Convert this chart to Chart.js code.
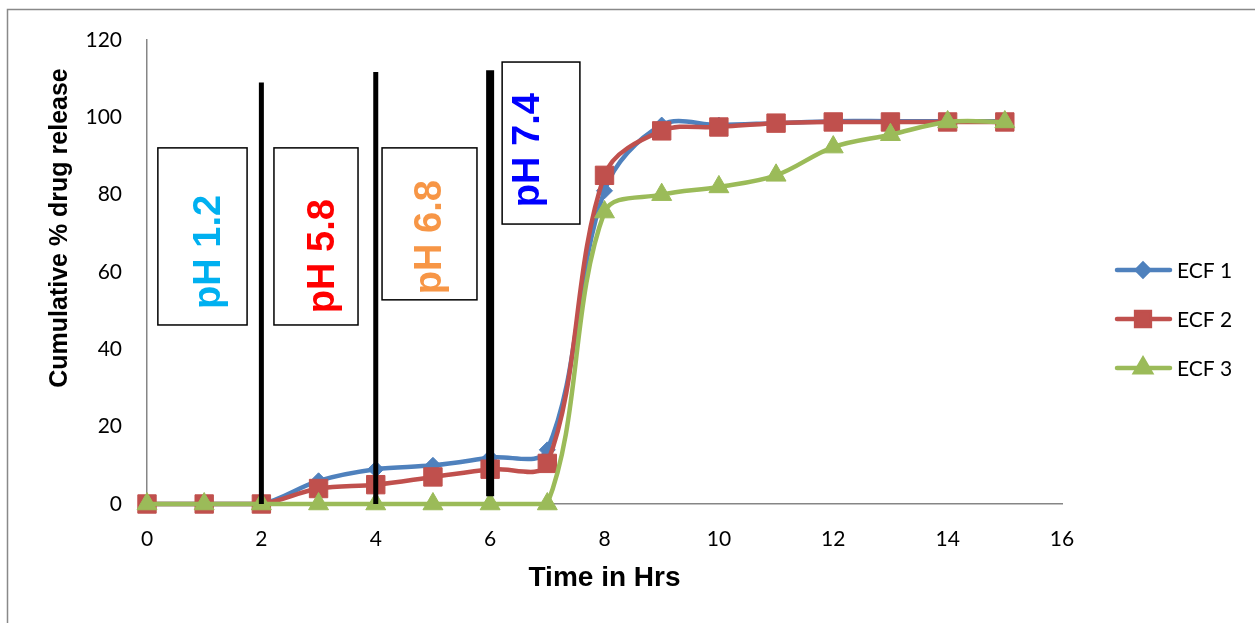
<!DOCTYPE html>
<html>
<head>
<meta charset="utf-8">
<script src="https://cdn.jsdelivr.net/npm/chart.js@4"></script>
<style>
  html, body { margin: 0; padding: 0; background: #fff; }
  #wrap { width: 1255px; height: 623px; }
</style>
</head>
<body>
<div id="wrap"><canvas id="releaseChart"></canvas></div>
<script>
// time points (hours) and cumulative release per formulation
var hours = [0, 1, 2, 3, 4, 5, 6, 7, 8, 9, 10, 11, 12, 13, 14, 15];
var ecf1 = [0, 0, 0, 6, 9, 10, 12, 14, 81, 98, 98, 98.5, 99, 99, 99, 99];
var ecf2 = [0, 0, 0, 4, 5, 7, 9, 10.5, 85, 96.5, 97.5, 98.5, 98.8, 98.8, 98.8, 98.8];
var ecf3 = [0, 0, 0, 0, 0, 0, 0, 0, 75.5, 80, 82, 85, 92.3, 95.5, 98.8, 98.8];
var seriesNames = ['ECF 1', 'ECF 2', 'ECF 3'];

// pH change times and the medium labels
var phChangeHours = [2, 4, 6];
var phLabels = ['pH 1.2', 'pH 5.8', 'pH 6.8', 'pH 7.4'];

var colors = ['#4F81BD', '#C0504D', '#9BBB59'];
var markers = ['rectRot', 'rect', 'triangle'];
var markerSize = [8, 13, 11.5];

// styling for the phase markers (data units)
var lineStyle = [
    { top: 109, bottom: 0, width: 5 },
    { top: 111.7, bottom: 0, width: 5 },
    { top: 112.2, bottom: 2, width: 8 }
];
var boxStyle = [
    { x0: 0.19, x1: 1.75, y0: 92.1, y1: 46.3, tx: 1.10, ty: 65.2, color: '#00B0F0' },
    { x0: 2.22, x1: 3.69, y0: 92.1, y1: 46.3, tx: 3.08, ty: 64.1, color: '#FF0000' },
    { x0: 4.11, x1: 5.77, y0: 92.1, y1: 52.8, tx: 4.95, ty: 69.0, color: '#F79646' },
    { x0: 6.21, x1: 7.57, y0: 114.3, y1: 72.4, tx: 6.68, ty: 91.5, color: '#0000FF' }
];

function points(vals) {
    return hours.map(function(h, i) { return { x: h, y: vals[i] }; });
}

var allSeries = [ecf1, ecf2, ecf3];
var datasets = allSeries.map(function(vals, i) {
    return {
        label: seriesNames[i],
        data: points(vals),
        borderColor: colors[i],
        backgroundColor: colors[i],
        pointBackgroundColor: colors[i],
        pointBorderColor: colors[i],
        pointStyle: markers[i],
        pointRadius: markerSize[i],
        pointBorderWidth: 1,
        borderWidth: 4.5,
        tension: 0.35,
        clip: false,
        order: 3 - i
    };
});

var extras = {
    id: 'extras',
    beforeDraw: function(chart) {
        var ctx = chart.ctx;
        ctx.save();
        ctx.fillStyle = '#fff';
        ctx.fillRect(0, 0, chart.width, chart.height);
        ctx.strokeStyle = '#898989';
        ctx.lineWidth = 1.5;
        ctx.strokeRect(7.5, 9.5, 1400, 800);
        ctx.restore();
    },
    afterDatasetsDraw: function(chart) {
        var ctx = chart.ctx;
        var xs = chart.scales.x, ys = chart.scales.y;
        ctx.save();
        // vertical pH change lines
        phChangeHours.forEach(function(h, i) {
            var st = lineStyle[i];
            var px = xs.getPixelForValue(h);
            ctx.strokeStyle = '#000';
            ctx.lineWidth = st.width;
            ctx.beginPath();
            ctx.moveTo(px, ys.getPixelForValue(st.top));
            ctx.lineTo(px, ys.getPixelForValue(st.bottom));
            ctx.stroke();
        });
        // pH boxes
        phLabels.forEach(function(txt, i) {
            var b = boxStyle[i];
            var x0 = xs.getPixelForValue(b.x0), x1 = xs.getPixelForValue(b.x1);
            var y0 = ys.getPixelForValue(b.y0), y1 = ys.getPixelForValue(b.y1);
            ctx.fillStyle = '#fff';
            ctx.fillRect(x0, y0, x1 - x0, y1 - y0);
            ctx.strokeStyle = '#000';
            ctx.lineWidth = 1.5;
            ctx.strokeRect(x0, y0, x1 - x0, y1 - y0);
            ctx.save();
            ctx.translate(xs.getPixelForValue(b.tx), ys.getPixelForValue(b.ty));
            ctx.rotate(-Math.PI / 2);
            ctx.fillStyle = b.color;
            ctx.font = 'bold 38px "Liberation Sans", Arial, sans-serif';
            ctx.textAlign = 'center';
            ctx.textBaseline = 'middle';
            ctx.fillText(txt, 0, 0);
            ctx.restore();
        });
        ctx.restore();
    },
    afterDraw: function(chart) {
        var ctx = chart.ctx;
        ctx.save();
        // y axis title
        ctx.translate(60, 228);
        ctx.rotate(-Math.PI / 2);
        ctx.fillStyle = '#000';
        ctx.font = 'bold 25px "Liberation Sans", Arial, sans-serif';
        ctx.textAlign = 'center';
        ctx.textBaseline = 'middle';
        ctx.fillText('Cumulative % drug release', 0, 0);
        ctx.restore();

        // legend
        ctx.save();
        var rows = [270, 319, 368];
        seriesNames.forEach(function(name, i) {
            var y = rows[i];
            ctx.strokeStyle = colors[i];
            ctx.lineWidth = 4.5;
            ctx.lineCap = 'round';
            ctx.beginPath();
            ctx.moveTo(1117, y);
            ctx.lineTo(1170, y);
            ctx.stroke();
            Chart.helpers.drawPoint(ctx, {
                pointStyle: markers[i],
                radius: markerSize[i] * 0.75,
                borderWidth: 1,
                rotation: 0
            }, 1143, y);
            ctx.fillStyle = colors[i];
            ctx.strokeStyle = colors[i];
            ctx.fill();
            ctx.fillStyle = '#000';
            ctx.font = '21px Lato, "Open Sans", sans-serif';
            ctx.textAlign = 'left';
            ctx.textBaseline = 'middle';
            ctx.fillText(name, 1177, y + 1);
        });
        ctx.restore();
    }
};

var ctx = document.getElementById('releaseChart').getContext('2d');
var chart = new Chart(ctx, {
    type: 'line',
    data: { datasets: datasets },
    options: {
        responsive: true,
        maintainAspectRatio: false,
        animation: false,
        layout: { padding: { left: 40, top: 40, right: 193, bottom: 0 } },
        plugins: {
            legend: { display: false },
            tooltip: { enabled: false }
        },
        scales: {
            x: {
                type: 'linear',
                min: 0,
                max: 16,
                grid: { display: false, drawTicks: false },
                border: { display: true, color: '#868686', width: 1.5 },
                ticks: {
                    stepSize: 2,
                    padding: 23,
                    color: '#000',
                    font: { family: 'Lato, "Open Sans", sans-serif', size: 21 }
                },
                title: {
                    display: true,
                    text: 'Time in Hrs',
                    color: '#000',
                    padding: { top: 0, bottom: 28 },
                    font: { family: '"Liberation Sans", Arial, sans-serif', size: 28, weight: 'bold' }
                },
                afterFit: function(scale) { scale.height = 119; }
            },
            y: {
                min: 0,
                max: 120,
                grid: { display: false, drawTicks: false },
                border: { display: true, color: '#868686', width: 1.5 },
                ticks: {
                    stepSize: 20,
                    padding: 25,
                    color: '#000',
                    font: { family: 'Lato, "Open Sans", sans-serif', size: 21 }
                },
                afterFit: function(scale) { scale.width = 107; }
            }
        }
    },
    plugins: [extras]
});
</script>
</body>
</html>
